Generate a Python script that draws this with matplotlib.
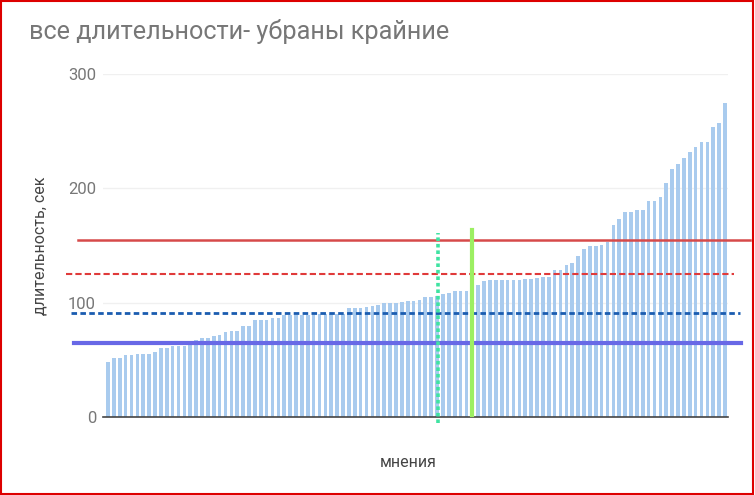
import numpy as np
import matplotlib
matplotlib.use("Agg")
import matplotlib.pyplot as plt
from matplotlib.patches import Rectangle

plt.rcParams['font.family'] = ['Roboto', 'DejaVu Sans']

# sorted durations, seconds (one bar per opinion)
durations = [
    48, 51.5, 51.5, 54, 54, 55, 55, 55, 56.5, 60,
    60, 62, 62, 62, 64, 67, 69.5, 69.5, 70.5, 72,
    74, 75.5, 75.5, 80, 80, 85, 85, 85, 87, 87,
    89, 89, 89, 89, 89, 89, 90, 90, 90, 90,
    90, 95.5, 95.5, 95.5, 96, 97.5, 98, 100, 100, 100,
    100.5, 101.5, 101.5, 102.5, 105, 105, 106, 107.5, 108.5, 110,
    110, 110, 110, 115.5, 119, 120, 120, 120, 120, 120,
    120, 120.7, 120.7, 122, 122.7, 122.7, 129, 129, 133, 135,
    141, 146.7, 149.6, 149.6, 150.2, 153.4, 168, 173, 179.6, 179.6,
    181, 181, 189, 189, 192, 204.4, 216.6, 221.3, 226.8, 231.5,
    236.5, 240.3, 240.3, 254, 257, 275,
]
y_ticks = [0, 100, 200, 300]

# hand drawn guide lines: level, colour, style, width, x-extent (axes fraction)
h_levels = [154.8, 125, 91, 64.7]
h_colors = ['#d64a4a', '#e03a3a', '#1a5cb0', '#6868e6']
h_styles = ['-', (0, (3, 1.5)), (0, (2, 1.2)), '-']
h_widths = [1.8, 1.5, 2.0, 3.0]
h_span = [(-0.040, 1.035), (-0.059, 1.010), (-0.051, 1.019), (-0.046, 1.021)]

# vertical marks: position in bars, bottom, top
v_pos = [56.2, 61.9]
v_bottom = [-5, 2]
v_top = [161, 163.5]
v_colors = ['#3fe3a2', '#9cef62']
v_styles = [(0, (1, 0.8)), '-']
v_widths = [2.6, 3.0]

fig = plt.figure(figsize=(7.55, 4.95), dpi=100)
ax = fig.add_axes([0.1364, 0.1576, 0.8278, 0.6929])

x = np.arange(len(durations))
ax.bar(x, durations, width=0.62, color='#a9cbee', zorder=2)

ax.set_xlim(-0.85, len(durations) - 0.5)
ax.set_ylim(0, 300)
ax.set_yticks(y_ticks)
ax.set_yticklabels([str(t) for t in y_ticks], fontsize=12, color='#777777')
ax.set_xticks([])
ax.tick_params(axis='y', length=0, pad=5)
ax.grid(axis='y', color='#f0f0f0', linewidth=1, zorder=0)
for s in ['top', 'right', 'left']:
    ax.spines[s].set_visible(False)
ax.spines['bottom'].set_color('#444444')
ax.spines['bottom'].set_linewidth(1.2)
ax.spines['bottom'].set_zorder(3)

for lvl, c, ls, lw, (a, b) in zip(h_levels, h_colors, h_styles, h_widths, h_span):
    ax.axhline(lvl, xmin=a, xmax=b, color=c, linestyle=ls, linewidth=lw,
               clip_on=False, zorder=4)

for p, y0, y1, c, ls, lw in zip(v_pos, v_bottom, v_top, v_colors, v_styles, v_widths):
    ax.plot([p, p], [y0, y1], color=c, linestyle=ls, linewidth=lw,
            clip_on=False, zorder=5)

ax.set_ylabel('длительность, сек', fontsize=11.5, color='#444444')
ax.yaxis.set_label_coords(-0.088, 0.50)
ax.set_xlabel('мнения', fontsize=11.5, color='#444444')
ax.xaxis.set_label_coords(0.488, -0.112)

fig.text(0.039, 0.921, 'все длительности- убраны крайние', fontsize=18.2,
         color='#777777', va='baseline')

# red frame round the picture
fig.patches.append(Rectangle((0.001, 0.002), 0.996, 0.995, transform=fig.transFigure,
                             fill=False, edgecolor='#dd0000', linewidth=1.5))

fig.savefig('out.png', dpi=100)
